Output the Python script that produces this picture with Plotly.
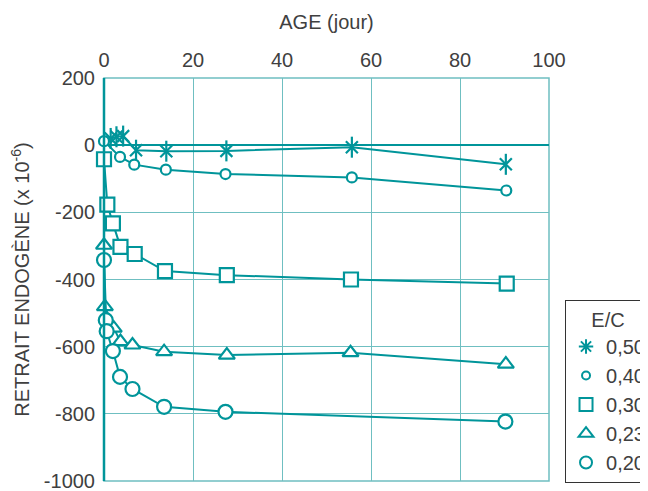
import plotly.graph_objects as go

TEAL = "#00959a"
GRID = "#6fbfc1"
TXT = "#404040"
FONT = "Liberation Sans"
FS = 20

# E/C = 0,50 (asterisk)
age_050 = [1.5, 2.8, 4.3, 7.2, 14, 27.5, 55.7, 90.3]
ret_050 = [20, 25, 27, -15, -18, -17, -6, -57]
# E/C = 0,40 (small circle)
age_040 = [0, 3.6, 6.8, 13.9, 27.3, 55.7, 90.4]
ret_040 = [12, -35, -58, -73, -86, -96, -135]
# E/C = 0,30 (square)
age_030 = [0, 0.75, 2, 3.7, 6.9, 13.7, 27.6, 55.5, 90.5]
ret_030 = [-42, -177, -233, -303, -324, -375, -387, -400, -412]
# E/C = 0,23 (triangle)
age_023 = [0, 0.2, 2.2, 3.7, 6.4, 13.5, 27.6, 55.4, 90.3]
ret_023 = [-298, -481, -545, -585, -595, -615, -625, -618, -652]
# E/C = 0,20 (circle)
age_020 = [0, 0.4, 0.6, 2, 3.6, 6.4, 13.5, 27.3, 90.2]
ret_020 = [-342, -521, -554, -613, -690, -726, -779, -794, -823]

x_ticks = [0, 20, 40, 60, 80, 100]
y_ticks = [200, 0, -200, -400, -600, -800, -1000]
y_ticktext = ["200", "0", "-200", "-400", "-600", "-800", "-1000"]

series = [
    ("0,50", age_050, ret_050, "x-thin-open", 12, "asterisk-open", 12),
    ("0,40", age_040, ret_040, "circle", 10, "circle", 8),
    ("0,30", age_030, ret_030, "square", 14, "square", 13),
    ("0,23", age_023, ret_023, "triangle-up", 14, "triangle-up", 13),
    ("0,20", age_020, ret_020, "circle", 14, "circle", 12),
]

fig = go.Figure()
for name, xs, ys, sym, sz, lsym, lsz in series:
    fill = TEAL if "open" in sym else "white"
    fig.add_trace(go.Scatter(
        x=xs, y=ys, name=name, mode="lines+markers", showlegend=False,
        line=dict(color=TEAL, width=2),
        marker=dict(symbol=sym, size=sz, color=fill,
                    line=dict(color=TEAL, width=2.2)),
        cliponaxis=False,
    ))
    if sym == "x-thin-open":
        # vertical stroke completes the six-armed asterisk
        fig.add_trace(go.Scatter(
            x=xs, y=ys, name=name, mode="markers", showlegend=False,
            marker=dict(symbol="line-ns-open", size=15, color=TEAL,
                        line=dict(color=TEAL, width=2.2)),
            cliponaxis=False,
        ))
for name, xs, ys, sym, sz, lsym, lsz in series:
    fill = TEAL if "open" in lsym else "white"
    fig.add_trace(go.Scatter(
        x=[None], y=[None], name=name, mode="markers", showlegend=True,
        marker=dict(symbol=lsym, size=lsz, color=fill,
                    line=dict(color=TEAL, width=2)),
    ))

fig.update_layout(
    width=648, height=491,
    margin=dict(l=96, r=107, t=70, b=18, autoexpand=False),
    paper_bgcolor="white", plot_bgcolor="white",
    font=dict(family=FONT, size=FS, color=TXT),
    showlegend=True,
    legend=dict(
        x=1.036, xanchor="left", y=-0.005, yanchor="bottom",
        bordercolor="#333333", borderwidth=1, bgcolor="white",
        title=dict(text="E/C", side="top center", font=dict(size=FS, color=TXT)),
        font=dict(size=FS, color=TXT),
        itemwidth=30, tracegroupgap=0,
    ),
    xaxis=dict(
        side="top", range=[0, 100], tickvals=x_ticks, automargin=False,
        title=dict(text="AGE (jour)", standoff=14, font=dict(size=FS, color=TXT)),
        showgrid=True, gridcolor=GRID, gridwidth=1,
        showline=False, zeroline=False, ticks="", ticklabelstandoff=6,
    ),
    yaxis=dict(
        range=[-1000, 200], tickvals=y_ticks, ticktext=y_ticktext, automargin=False,
        title=dict(text="RETRAIT ENDOGÈNE (x 10<sup>-6</sup>)", standoff=19,
                   font=dict(size=FS, color=TXT)),
        showgrid=True, gridcolor=GRID, gridwidth=1,
        zeroline=True, zerolinecolor=TEAL, zerolinewidth=2,
        showline=False, ticks="", ticklabelstandoff=8,
    ),
    shapes=[
        dict(type="rect", xref="paper", yref="paper", x0=0, x1=1, y0=0, y1=1,
             line=dict(color=GRID, width=1.5), layer="below"),
        dict(type="line", xref="paper", yref="paper", x0=0, x1=0, y0=0, y1=1,
             line=dict(color=TEAL, width=2.5), layer="above"),
    ],
)

fig.write_html("out.html")
